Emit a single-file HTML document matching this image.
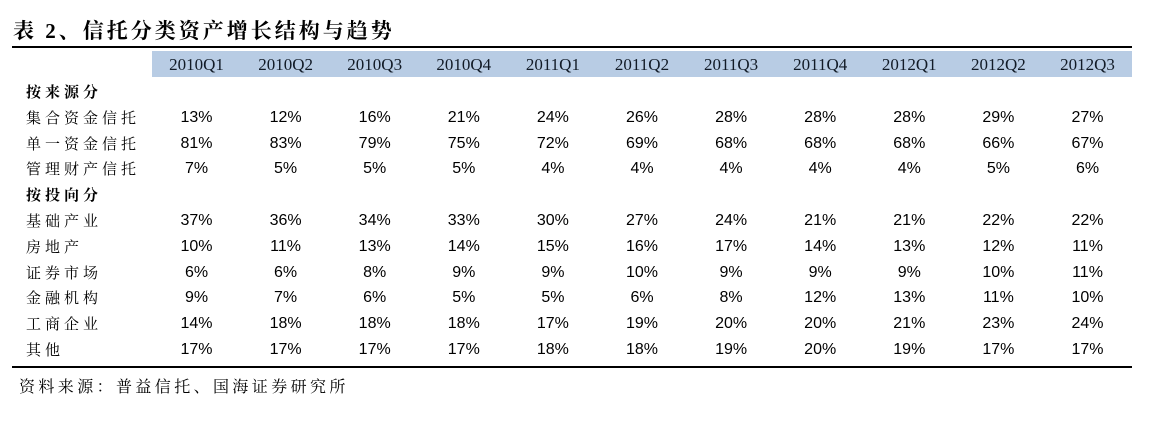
<!DOCTYPE html>
<html><head><meta charset="utf-8"><style>
body{margin:0;width:1160px;height:428px;background:#fff;position:relative;overflow:hidden;font-family:"Liberation Sans","Noto Sans CJK SC",sans-serif}
.t{position:absolute;white-space:nowrap}
.title{left:13px;top:15px;font-family:"Liberation Serif","Noto Serif CJK SC",serif;font-weight:bold;font-size:21px;letter-spacing:3px;color:#000}
.hline{position:absolute;left:12px;width:1120px;height:2px;background:#000}
.hdrbg{position:absolute;left:152px;top:51px;width:980px;height:26px;background:#b8cce4}
.hd{font-family:"Liberation Serif",serif;font-size:17px;color:#111a26;width:89px;text-align:center;top:55px}
.lab{left:26px;font-family:"Noto Serif CJK SC","Noto Sans CJK SC",serif;font-size:15px;letter-spacing:4px;color:#000}
.sec{font-weight:bold}
.v{font-size:16px;width:89px;text-align:center;color:#000}
.src{left:19px;top:374px;font-family:"Noto Serif CJK SC",serif;font-size:16px;letter-spacing:3.4px}
</style></head><body>
<div class="t title">表 2、信托分类资产增长结构与趋势</div>
<div class="hline" style="top:46px"></div>
<div class="hdrbg"></div>
<div id="tbl"></div>
<div class="hline" style="top:366px;height:2px"></div>
<div class="t src">资料来源：普益信托、国海证券研究所</div>
<script>
const quarters=["2010Q1","2010Q2","2010Q3","2010Q4","2011Q1","2011Q2","2011Q3","2011Q4","2012Q1","2012Q2","2012Q3"];
const rowLabels=["按来源分","集合资金信托","单一资金信托","管理财产信托","按投向分","基础产业","房地产","证券市场","金融机构","工商企业","其他"];
const jihe=[13,12,16,21,24,26,28,28,28,29,27];
const danyi=[81,83,79,75,72,69,68,68,68,66,67];
const guanli=[7,5,5,5,4,4,4,4,4,5,6];
const jichu=[37,36,34,33,30,27,24,21,21,22,22];
const fangdichan=[10,11,13,14,15,16,17,14,13,12,11];
const zhengquan=[6,6,8,9,9,10,9,9,9,10,11];
const jinrong=[9,7,6,5,5,6,8,12,13,11,10];
const gongshang=[14,18,18,18,17,19,20,20,21,23,24];
const qita=[17,17,17,17,18,18,19,20,19,17,17];
const rowValues=[null,jihe,danyi,guanli,null,jichu,fangdichan,zhengquan,jinrong,gongshang,qita];
const tbl=document.getElementById('tbl');
const colX=i=>152+i*89.1;
const rowY=r=>81+r*25.8;
quarters.forEach((q,i)=>{
  const d=document.createElement('div');
  d.className='t hd';d.style.left=colX(i)+'px';d.textContent=q;
  
  
  tbl.appendChild(d);
});
rowLabels.forEach((lab,r)=>{
  const l=document.createElement('div');
  l.className='t lab'+(rowValues[r]?'':' sec');
  l.style.top=rowY(r)+'px';l.textContent=lab;
  
  
  tbl.appendChild(l);
  const vals=rowValues[r];
  if(!vals)return;
  vals.forEach((v,i)=>{
    const c=document.createElement('div');
    c.className='t v';c.style.left=colX(i)+'px';c.style.top=(rowY(r)+2)+'px';
    c.textContent=v+'%';
    
    
    tbl.appendChild(c);
  });
});
</script>
</body></html>
